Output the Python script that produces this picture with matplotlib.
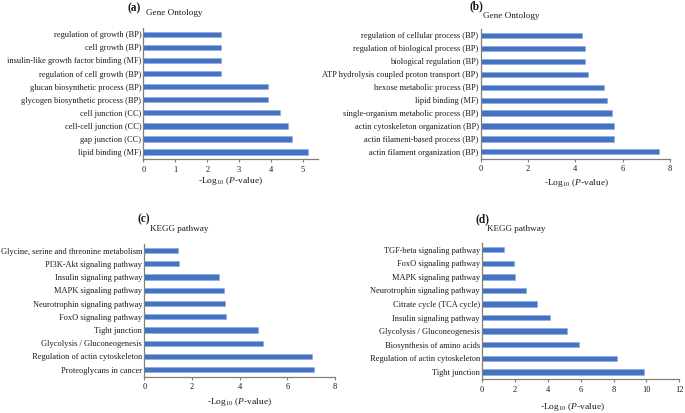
import matplotlib
matplotlib.use("Agg")
import matplotlib.pyplot as plt

plt.rcParams['font.family'] = ['Liberation Serif', 'DejaVu Serif']
plt.rcParams['mathtext.fontset'] = 'custom'
plt.rcParams['mathtext.rm'] = 'Liberation Serif'
plt.rcParams['mathtext.it'] = 'Liberation Serif:italic'

# Data (top-to-bottom order as displayed)
a_terms = ["regulation of growth (BP)", "cell growth (BP)",
           "insulin-like growth factor binding (MF)", "regulation of cell growth (BP)",
           "glucan biosynthetic process (BP)", "glycogen biosynthetic process (BP)",
           "cell junction (CC)", "cell-cell junction (CC)", "gap junction (CC)",
           "lipid binding (MF)"]
a_vals = [2.42, 2.42, 2.42, 2.42, 3.89, 3.89, 4.27, 4.54, 4.67, 5.16]

b_terms = ["regulation of cellular process (BP)", "regulation of biological process (BP)",
           "biological regulation (BP)", "ATP hydrolysis coupled proton transport (BP)",
           "hexose metabolic process (BP)", "lipid binding (MF)",
           "single-organism metabolic process (BP)", "actin cytoskeleton organization (BP)",
           "actin filament-based process (BP)", "actin filament organization (BP)"]
b_vals = [4.30, 4.42, 4.42, 4.52, 5.23, 5.32, 5.54, 5.65, 5.65, 7.54]

c_terms = ["Glycine, serine and threonine metabolism", "PI3K-Akt signaling pathway",
           "Insulin signaling pathway", "MAPK signaling pathway",
           "Neurotrophin signaling pathway", "FoxO signaling pathway",
           "Tight junction", "Glycolysis / Gluconeogenesis",
           "Regulation of actin cytoskeleton", "Proteoglycans in cancer"]
c_vals = [1.43, 1.45, 3.12, 3.33, 3.40, 3.41, 4.76, 4.98, 7.05, 7.13]

d_terms = ["TGF-beta signaling pathway", "FoxO signaling pathway",
           "MAPK signaling pathway", "Neurotrophin signaling pathway",
           "Citrate cycle (TCA cycle)", "Insulin signaling pathway",
           "Glycolysis / Gluconeogenesis", "Biosynthesis of amino acids",
           "Regulation of actin cytoskeleton", "Tight junction"]
d_vals = [1.32, 1.94, 1.98, 2.69, 3.36, 4.11, 5.16, 5.93, 8.22, 9.88]

W, H = 685, 413
fig = plt.figure(figsize=(W / 100, H / 100), dpi=100)

BAR = '#4472C4'
SPINE = '#7f7f7f'
FS = 6.0
TXT = '#1a1a1a'

def panel(left, right, ytop, ybot, terms, vals, xmax, xticks, letter, title,
          letter_xy, title_xy, xlabel_xy):
    ax = fig.add_axes([left / W, 1 - ybot / H, (right - left) / W, (ybot - ytop) / H])
    n = len(terms)
    pos = list(range(n - 1, -1, -1))
    ax.barh(pos, vals, height=0.4, color=BAR, edgecolor='#8faadc', linewidth=0.4)
    ax.set_xlim(0, xmax)
    ax.set_ylim(-0.55, n - 0.5)
    ax.set_yticks(pos)
    ax.set_yticklabels(terms, fontsize=FS, color=TXT)
    ax.set_xticks(xticks)
    ax.set_xticklabels([str(t) for t in xticks], fontsize=FS, color=TXT)
    for s in ['top', 'right']:
        ax.spines[s].set_visible(False)
    for s in ['left', 'bottom']:
        ax.spines[s].set_color(SPINE)
        ax.spines[s].set_linewidth(0.9)
    ax.tick_params(axis='y', length=0, pad=1.5)
    ax.tick_params(axis='x', length=2.5, width=0.8, color=SPINE, pad=2)
    fig.text(letter_xy[0] / W, 1 - letter_xy[1] / H, letter, fontsize=8.3,
             fontweight='bold', ha='left', va='center', color=TXT)
    fig.text(title_xy[0] / W, 1 - title_xy[1] / H, title, fontsize=6.6,
             ha='left', va='center', color=TXT)
    fig.text(xlabel_xy[0] / W, 1 - xlabel_xy[1] / H, r'-Log$_{10}$ ($P$-value)',
             fontsize=6.8, ha='center', va='center', color=TXT)
    return ax

panel(143.3, 318, 27.7, 159.3, a_terms, a_vals, 5.47, [0, 1, 2, 3, 4, 5],
      '(a)', 'Gene Ontology', (128, 8), (146.5, 13), (231, 181))
panel(480.7, 670, 29, 159, b_terms, b_vals, 8, [0, 2, 4, 6, 8],
      '(b)', 'Gene Ontology', (469.5, 6), (483, 16), (577, 183))
panel(144.3, 335, 244, 377, c_terms, c_vals, 8, [0, 2, 4, 6, 8],
      '(c)', 'KEGG pathway', (137.5, 219), (150, 229), (240, 402))
panel(482, 679.3, 243, 379.3, d_terms, d_vals, 12, [0, 2, 4, 6, 8, 10, 12],
      '(d)', 'KEGG pathway', (475, 219), (487, 229), (573, 407))

fig.savefig('out.png', dpi=100)
